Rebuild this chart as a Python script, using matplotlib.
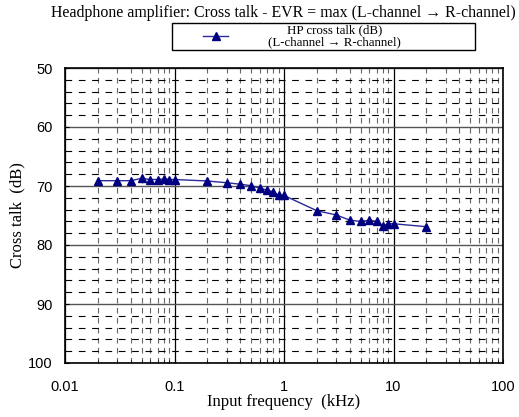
import matplotlib
matplotlib.use("Agg")
import matplotlib.pyplot as plt
from matplotlib.patches import Rectangle
from matplotlib.ticker import LogLocator, FixedLocator, MultipleLocator, NullFormatter, FixedFormatter

freq_khz = [0.02, 0.03, 0.04, 0.05, 0.06, 0.07, 0.08, 0.09, 0.1,
            0.2, 0.3, 0.4, 0.5, 0.6, 0.7, 0.8, 0.9, 1.0,
            2, 3, 4, 5, 6, 7, 8, 9, 10, 20]
crosstalk_db = [69.1, 69.1, 69.1, 68.7, 68.9, 68.9, 68.8, 68.9, 68.9,
                69.15, 69.45, 69.7, 69.95, 70.35, 70.7, 71.0, 71.6, 71.6,
                74.2, 74.9, 75.8, 76.0, 75.8, 76.0, 76.7, 76.4, 76.4, 76.9]
x_ticks = [0.01, 0.1, 1, 10, 100]
x_ticklabels = ["0.01", "0.1", "1", "10", "100"]
y_ticks = [50, 60, 70, 80, 90, 100]

fig = plt.figure(figsize=(5.19, 4.17), dpi=100)
ax = fig.add_axes([65 / 519, 54 / 417, 438 / 519, 295 / 417])

ax.set_xscale("log")
ax.set_xlim(0.01, 100)
ax.set_ylim(100, 50)

ax.xaxis.set_major_locator(FixedLocator(x_ticks))
ax.xaxis.set_major_formatter(FixedFormatter(x_ticklabels))
ax.xaxis.set_minor_locator(LogLocator(base=10, subs=range(2, 10)))
ax.xaxis.set_minor_formatter(NullFormatter())
ax.yaxis.set_major_locator(FixedLocator(y_ticks))
ax.yaxis.set_minor_locator(MultipleLocator(2))

ax.grid(True, which="major", axis="x", color="black", lw=0.9, ls="-")
ax.grid(True, which="major", axis="y", color="#555555", lw=1.0, ls="-")
ax.grid(True, which="minor", axis="y", color="black", lw=0.8, ls=(0, (6, 6)))
ax.grid(True, which="minor", axis="x", color="#666666", lw=0.8, ls=(0, (5, 4)))
ax.set_axisbelow(True)

ax.tick_params(axis="both", which="both", direction="in", top=False, right=False)
ax.tick_params(axis="both", which="major", length=3, labelsize=10.5)
ax.tick_params(axis="x", which="major", pad=12)
ax.tick_params(axis="y", which="major", pad=9)
ax.tick_params(axis="both", which="minor", length=2)
for lbl in ax.get_xticklabels() + ax.get_yticklabels():
    lbl.set_fontfamily("Liberation Sans")
for sp in ax.spines.values():
    sp.set_linewidth(1.2)

ln, = ax.plot(freq_khz, crosstalk_db, color="#2a2a9a", lw=1.0,
              marker="^", markersize=5.5, markerfacecolor="#000080",
              markeredgecolor="#000080",
              label="HP cross talk (dB)\n(L-channel \u2192 R-channel)")

ax.set_xlabel("Input frequency  (kHz)", fontfamily=["Liberation Serif", "DejaVu Serif"],
              fontsize=12, labelpad=0)
ax.set_ylabel("Cross talk  (dB)", fontfamily=["Liberation Serif", "DejaVu Serif"],
              fontsize=12, labelpad=2)

fig.text(283 / 519, 1 - 13 / 417,
         "Headphone amplifier: Cross talk - EVR = max (L-channel \u2192 R-channel)",
         ha="center", va="center", fontsize=11.4,
         fontfamily=["Liberation Serif", "DejaVu Sans"])

# legend box frame spanning the reference width
fig.patches.append(Rectangle((172 / 519, 1 - 50 / 417), 303 / 519, 27 / 417,
                             transform=fig.transFigure, fill=False,
                             edgecolor="black", lw=1.0))
leg = fig.legend(handles=[ln], loc="center left",
                 bbox_to_anchor=(203 / 519, 1 - 36.5 / 417),
                 prop={"family": ["Liberation Serif", "DejaVu Sans"], "size": 9.3},
                 frameon=False, handlelength=1.95, borderpad=0, labelspacing=0.1,
                 handletextpad=3.1, borderaxespad=0)
for t in leg.get_texts():
    t.set_multialignment("center")
    t.set_linespacing(0.95)

fig.savefig("out.png", dpi=100)
